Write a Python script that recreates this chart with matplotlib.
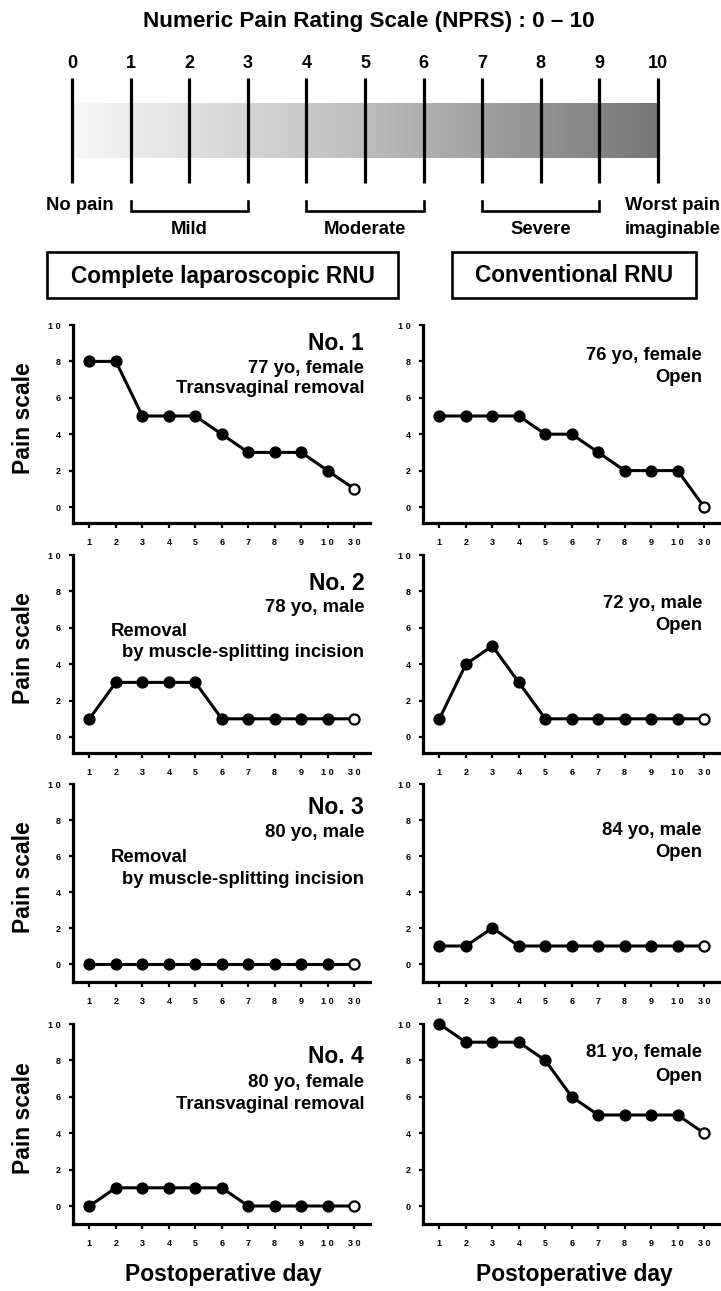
import numpy as np
import matplotlib
matplotlib.use("Agg")
import matplotlib.pyplot as plt
from matplotlib.patches import Rectangle
from matplotlib.colors import LinearSegmentedColormap

plt.rcParams['font.family'] = ['Liberation Sans', 'DejaVu Sans']
plt.rcParams['font.weight'] = 'bold'

# ---------------- data ----------------
scale_values = list(range(0, 11))
scale_groups = ["Mild", "Moderate", "Severe"]
group_start = [1, 4, 7]
group_end = [3, 6, 9]
group_titles = ["Complete laparoscopic RNU", "Conventional RNU"]

days = [1, 2, 3, 4, 5, 6, 7, 8, 9, 10, 30]
y_ticks = [0, 2, 4, 6, 8, 10]

lap_no1 = [8, 8, 5, 5, 5, 4, 3, 3, 3, 2, 1]
lap_no2 = [1, 3, 3, 3, 3, 1, 1, 1, 1, 1, 1]
lap_no3 = [0, 0, 0, 0, 0, 0, 0, 0, 0, 0, 0]
lap_no4 = [0, 1, 1, 1, 1, 1, 0, 0, 0, 0, 0]
conv_1 = [5, 5, 5, 5, 4, 4, 3, 2, 2, 2, 0]
conv_2 = [1, 4, 5, 3, 1, 1, 1, 1, 1, 1, 1]
conv_3 = [1, 1, 2, 1, 1, 1, 1, 1, 1, 1, 1]
conv_4 = [10, 9, 9, 9, 8, 6, 5, 5, 5, 5, 4]

lap_series = [lap_no1, lap_no2, lap_no3, lap_no4]
conv_series = [conv_1, conv_2, conv_3, conv_4]

lap_case = ["No. 1", "No. 2", "No. 3", "No. 4"]
lap_info = ["77 yo, female", "78 yo, male", "80 yo, male", "80 yo, female"]
lap_method = ["Transvaginal removal", "by muscle-splitting incision",
              "by muscle-splitting incision", "Transvaginal removal"]
lap_method_pre = [None, "Removal", "Removal", None]
conv_info = ["76 yo, female", "72 yo, male", "84 yo, male", "81 yo, female"]
conv_method = ["Open", "Open", "Open", "Open"]

# ---------------- layout (pixels) ----------------
W, H = 721, 1291
fig = plt.figure(figsize=(W / 100, H / 100), dpi=100)

def fx(x):
    return x / W

def fy(y):
    return 1 - y / H

# header axes: x in scale units, y in pixels
X0, DX = 72.0, 58.6
axh = fig.add_axes([0, 0, 1, 1])
axh.set_xlim(-X0 / DX, (W - X0) / DX)
axh.set_ylim(H, 0)
axh.axis('off')

def sx(px):
    return (px - X0) / DX

axh.text(sx(369), 21, "Numeric Pain Rating Scale (NPRS) : 0 \u2013 10",
         ha='center', va='center', fontsize=16.2, fontweight='bold')

grad_cmap = LinearSegmentedColormap.from_list("g", ["#f7f7f7", "#bdbdbd", "#767676"])
axh.imshow(np.linspace(0, 1, 256).reshape(1, -1), cmap=grad_cmap, aspect='auto',
           extent=(scale_values[0], scale_values[-1], 158, 103), zorder=1,
           interpolation='bilinear')
for v in scale_values:
    axh.plot([v, v], [78, 183], color='black', lw=2.3, solid_capstyle='butt', zorder=2)
    axh.text(v, 63, str(v), ha='center', va='center', fontsize=13, fontweight='bold')

for name, a, b in zip(scale_groups, group_start, group_end):
    axh.plot([a, a, b, b], [201, 211, 211, 201], color='black', lw=1.9,
             solid_joinstyle='miter')
    axh.text((a + b) / 2, 230, name, ha='center', va='center', fontsize=13.3,
             fontweight='bold')

axh.text(sx(80), 205, "No pain", ha='center', va='center', fontsize=13.3,
         fontweight='bold')
axh.text(sx(625), 205, "Worst pain", ha='left', va='center',
         fontsize=13.3, fontweight='bold')
axh.text(sx(625), 229, "imaginable", ha='left', va='center',
         fontsize=13.3, fontweight='bold')

boxes = [(47, 398), (452, 696)]
for (bx0, bx1), title in zip(boxes, group_titles):
    axh.add_patch(Rectangle((sx(bx0), 252), sx(bx1) - sx(bx0), 46, fill=False,
                            ec='black', lw=1.9))
    axh.text((sx(bx0) + sx(bx1)) / 2, 276, title, ha='center', va='center',
             fontsize=16.3, fontweight='bold')

# panels
row_top = [325, 555, 784, 1024]       # pixel of y=10
row_zero = [507, 737, 964, 1206]      # pixel of y=0
row_axis = [523, 753, 982, 1224]      # pixel of x-axis
col_left = [73, 423]
col_width = 297
XL = (0.38, 11.6)

# annotation y positions (data units) for each panel
lap_y = [(9.0, 7.6, None, 6.5), (8.46, 7.14, 5.82, 4.67),
         (8.67, 7.28, 5.94, 4.72), (8.19, 6.76, None, 5.55)]
conv_y = [(8.35, 7.1), (7.36, 6.15), (7.39, 6.17), (8.41, 7.09)]

xpos = np.arange(1, len(days) + 1)
day_labels = [" ".join(str(d)) for d in days]
ytick_labels = [" ".join(str(v)) for v in y_ticks]

for r in range(4):
    unit = (row_zero[r] - row_top[r]) / 10.0
    ybot = -(row_axis[r] - row_zero[r]) / unit
    for c in range(2):
        ax = fig.add_axes([fx(col_left[c]), fy(row_axis[r]), col_width / W,
                           (row_axis[r] - row_top[r]) / H])
        vals = lap_series[r] if c == 0 else conv_series[r]
        ax.plot(xpos, vals, color='black', lw=2.2, zorder=3, clip_on=False)
        ax.plot(xpos[:-1], vals[:-1], 'o', color='black', ms=7.8, zorder=4,
                clip_on=False)
        ax.plot(xpos[-1:], vals[-1:], 'o', mfc='white', mec='black', mew=1.6,
                ms=7.3, zorder=5, clip_on=False)
        ax.set_xlim(*XL)
        ax.set_ylim(ybot, 10)
        ax.set_xticks(xpos)
        ax.set_xticklabels(day_labels)
        ax.set_yticks(y_ticks)
        ax.set_yticklabels(ytick_labels)
        for s in ['top', 'right']:
            ax.spines[s].set_visible(False)
        for s in ['left', 'bottom']:
            ax.spines[s].set_linewidth(2.3)
        ax.tick_params(axis='x', direction='out', length=3.5, width=1.6, pad=7,
                       labelsize=6.5)
        ax.tick_params(axis='y', direction='out', length=3, width=1.6, pad=6,
                       labelsize=6.5)
        for lab in ax.get_xticklabels() + ax.get_yticklabels():
            lab.set_fontweight('bold')
        ax.patch.set_alpha(0)

        if c == 0:
            yc, yi, ypre, ym = lap_y[r]
            xr = 11.38
            ax.text(xr, yc, lap_case[r], ha='right', va='center', fontsize=16.5,
                    fontweight='bold')
            ax.text(xr, yi, lap_info[r], ha='right', va='center', fontsize=13.3,
                    fontweight='bold')
            if lap_method_pre[r]:
                ax.text(1.79, ypre, lap_method_pre[r], ha='left', va='center',
                        fontsize=13.3, fontweight='bold')
            ax.text(xr, ym, lap_method[r], ha='right', va='center', fontsize=13.3,
                    fontweight='bold')
            fig.text(fx(24), fy((row_top[r] + row_axis[r]) / 2 - 6), "Pain scale",
                     rotation=90, ha='center', va='center', fontsize=16.5,
                     fontweight='bold')
        else:
            yi, ym = conv_y[r]
            xr = 10.92
            ax.text(xr, yi, conv_info[r], ha='right', va='center', fontsize=13.3,
                    fontweight='bold')
            ax.text(xr, ym, conv_method[r], ha='right', va='center', fontsize=13.3,
                    fontweight='bold')

for xc in [223, 574]:
    fig.text(fx(xc), fy(1275), "Postoperative day", ha='center', va='center',
             fontsize=16.5, fontweight='bold')

fig.savefig("out.png", dpi=100)
